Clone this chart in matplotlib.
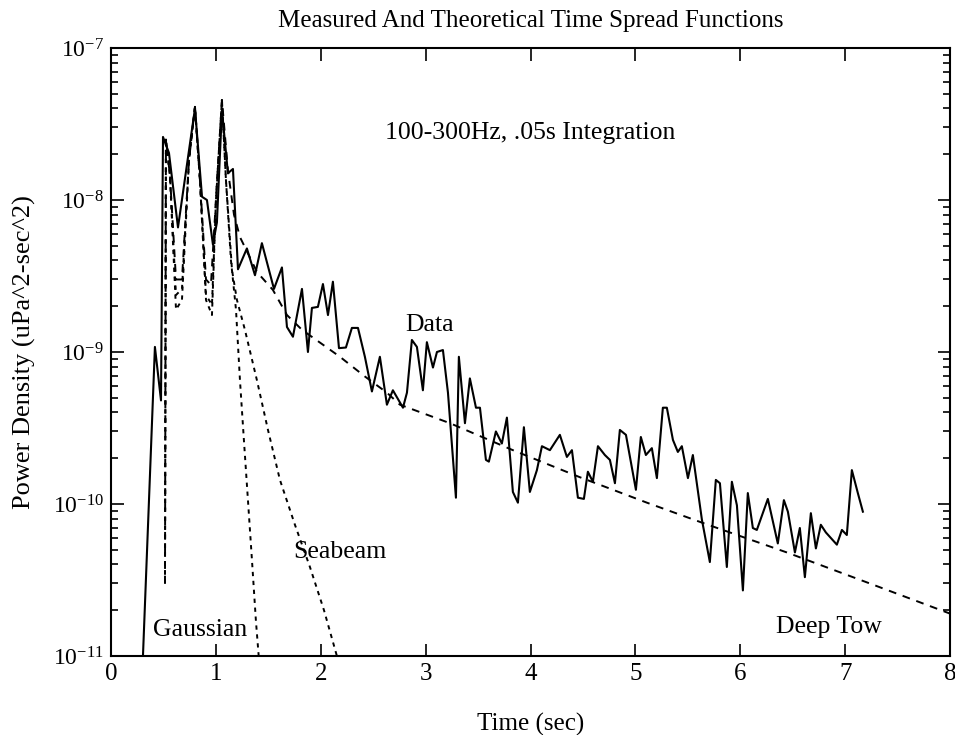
import matplotlib.pyplot as plt
from matplotlib.ticker import FixedLocator, LogLocator, NullFormatter

plt.switch_backend('agg')

plt.rcParams['font.family'] = ['Liberation Serif', 'DejaVu Serif']
plt.rcParams['mathtext.default'] = 'regular'
plt.rcParams['axes.unicode_minus'] = False

# measured data (time in sec, power density in uPa^2-sec^2)
data_t = [0.305, 0.419, 0.477, 0.496, 0.553, 0.639, 0.801, 0.868, 0.915, 0.972,
          1.010, 1.058, 1.115, 1.163, 1.211, 1.296, 1.373, 1.439, 1.554, 1.630,
          1.678, 1.735, 1.821, 1.878, 1.916, 1.973, 2.021, 2.069, 2.116, 2.174,
          2.240, 2.297, 2.355, 2.421, 2.488, 2.564, 2.631, 2.688, 2.784, 2.822,
          2.869, 2.917, 2.974, 3.012, 3.070, 3.108, 3.165, 3.213, 3.289, 3.317,
          3.375, 3.422, 3.480, 3.518, 3.575, 3.603, 3.670, 3.727, 3.775, 3.832,
          3.880, 3.937, 3.994, 4.061, 4.109, 4.185, 4.280, 4.347, 4.395, 4.452,
          4.509, 4.547, 4.595, 4.643, 4.709, 4.757, 4.805, 4.852, 4.910, 5.005,
          5.052, 5.100, 5.157, 5.205, 5.262, 5.300, 5.358, 5.405, 5.443, 5.501,
          5.548, 5.634, 5.710, 5.767, 5.806, 5.872, 5.920, 5.968, 6.025, 6.072,
          6.120, 6.158, 6.263, 6.358, 6.416, 6.454, 6.521, 6.568, 6.616, 6.673,
          6.721, 6.768, 6.816, 6.921, 6.969, 7.016, 7.064, 7.121, 7.169]
data_p = [1.0e-11, 1.08e-9, 4.8e-10, 2.6e-8, 2.04e-8, 6.6e-9, 4.0e-8, 1.05e-8, 1.0e-8, 5.1e-9,
          7.1e-9, 3.9e-8, 1.5e-8, 1.6e-8, 3.5e-9, 4.8e-9, 3.2e-9, 5.2e-9, 2.6e-9, 3.6e-9,
          1.46e-9, 1.26e-9, 2.6e-9, 1.0e-9, 1.95e-9, 1.98e-9, 2.8e-9, 1.75e-9, 2.9e-9, 1.06e-9,
          1.07e-9, 1.44e-9, 1.44e-9, 9.3e-10, 5.5e-10, 9.3e-10, 4.5e-10, 5.6e-10, 4.3e-10, 5.4e-10,
          1.2e-9, 1.08e-9, 5.6e-10, 1.16e-9, 7.9e-10, 1.0e-9, 1.03e-9, 5.4e-10, 1.1e-10, 9.3e-10,
          3.4e-10, 6.7e-10, 4.3e-10, 4.3e-10, 1.95e-10, 1.9e-10, 3.0e-10, 2.5e-10, 3.7e-10, 1.2e-10,
          1.02e-10, 3.2e-10, 1.2e-10, 1.67e-10, 2.4e-10, 2.26e-10, 2.85e-10, 2.04e-10, 2.26e-10, 1.1e-10,
          1.08e-10, 1.63e-10, 1.4e-10, 2.4e-10, 2.1e-10, 1.95e-10, 1.37e-10, 3.07e-10, 2.85e-10, 1.24e-10,
          2.76e-10, 2.1e-10, 2.33e-10, 1.48e-10, 4.3e-10, 4.3e-10, 2.64e-10, 2.2e-10, 2.4e-10, 1.48e-10,
          2.1e-10, 7.9e-11, 4.15e-11, 1.44e-10, 1.37e-10, 3.85e-11, 1.4e-10, 9.8e-11, 2.7e-11, 1.18e-10,
          6.95e-11, 6.75e-11, 1.08e-10, 5.5e-11, 1.06e-10, 8.9e-11, 4.8e-11, 6.95e-11, 3.3e-11, 8.7e-11,
          5.1e-11, 7.3e-11, 6.5e-11, 5.4e-11, 6.75e-11, 6.25e-11, 1.67e-10, 1.18e-10, 8.9e-11]

# theoretical: deep tow
deep_t = [0.515, 0.524, 0.562, 0.620, 0.677, 0.744, 0.801, 0.848, 0.906, 0.953,
          1.001, 1.058, 1.115, 1.173, 1.230, 1.392, 1.544, 1.678, 1.821, 2.183,
          2.421, 2.631, 2.755, 3.232, 3.832, 4.471, 5.110, 5.644, 6.444, 7.235, 8.0]
deep_p = [3.0e-11, 2.5e-8, 1.46e-8, 3.0e-9, 3.0e-9, 1.83e-8, 4.1e-8, 1.36e-8, 3.0e-9, 2.76e-9,
          1.0e-8, 4.55e-8, 1.57e-8, 8.0e-9, 5.7e-9, 3.36e-9, 2.56e-9, 1.75e-9, 1.4e-9, 9.3e-10,
          6.9e-10, 5.4e-10, 4.5e-10, 3.4e-10, 2.26e-10, 1.5e-10, 1.02e-10, 7.5e-11, 4.8e-11, 3.0e-11, 1.9e-11]

# theoretical: gaussian
gauss_t = [0.515, 0.524, 0.562, 0.620, 0.677, 0.744, 0.801, 0.848, 0.906, 0.963,
           1.001, 1.058, 1.096, 1.144, 1.192, 1.230, 1.268, 1.306, 1.344, 1.382, 1.411]
gauss_p = [3.0e-11, 2.5e-8, 1.46e-8, 1.9e-9, 2.2e-9, 1.83e-8, 4.1e-8, 1.36e-8, 2.2e-9, 1.75e-9,
           1.0e-8, 4.55e-8, 1.36e-8, 4.0e-9, 1.9e-9, 6.5e-10, 2.6e-10, 1.06e-10, 4.3e-11, 1.7e-11, 9.5e-12]

# theoretical: seabeam
sea_t = [0.515, 0.524, 0.562, 0.620, 0.677, 0.744, 0.801, 0.848, 0.906, 0.963,
         1.001, 1.058, 1.096, 1.154, 1.201, 1.277, 1.392, 1.497, 1.611, 1.754,
         1.897, 2.031, 2.154]
sea_p = [3.0e-11, 2.5e-8, 1.46e-8, 2.37e-9, 2.6e-9, 1.83e-8, 4.1e-8, 1.36e-8, 2.37e-9, 2.04e-9,
         1.0e-8, 4.55e-8, 1.36e-8, 3.46e-9, 2.2e-9, 1.4e-9, 6.5e-10, 3.07e-10, 1.44e-10, 7.3e-11,
         3.85e-11, 2.0e-11, 1.0e-11]

x_ticks = [0, 1, 2, 3, 4, 5, 6, 7, 8]
y_ticks = [1e-11, 1e-10, 1e-9, 1e-8, 1e-7]
y_tick_labels = ['$10^{-11}$', '$10^{-10}$', '$10^{-9}$', '$10^{-8}$', '$10^{-7}$']

fig = plt.figure(figsize=(9.55, 7.35), dpi=100)
ax = fig.add_axes([0.1162, 0.1075, 0.8786, 0.8272])

ax.plot(data_t, data_p, color='black', linewidth=1.5)
ax.plot(deep_t, deep_p, color='black', linewidth=1.4, linestyle=(0, (4, 3.5)))
ax.plot(gauss_t, gauss_p, color='black', linewidth=1.4, linestyle=(0, (2.2, 2.4)))
ax.plot(sea_t, sea_p, color='black', linewidth=1.4, linestyle=(0, (2.2, 2.4)))

ax.set_yscale('log')
ax.set_xlim(0, 8)
ax.set_ylim(1e-11, 1e-7)

ax.xaxis.set_major_locator(FixedLocator(x_ticks))
ax.set_yticks(y_ticks)
ax.set_yticklabels(y_tick_labels)
ax.yaxis.set_minor_locator(LogLocator(base=10, subs=range(2, 10)))
ax.yaxis.set_minor_formatter(NullFormatter())
ax.tick_params(which='both', direction='in', top=True, right=True, width=1.2)
ax.tick_params(axis='x', labelsize=18)
ax.tick_params(axis='y', labelsize=17)
ax.tick_params(which='major', length=9, pad=5)
ax.tick_params(which='minor', length=5)
for s in ax.spines.values():
    s.set_linewidth(1.5)

ax.set_title('Measured And Theoretical Time Spread Functions', fontsize=18, pad=15)
ax.set_xlabel('Time (sec)', fontsize=18, labelpad=20)
ax.set_ylabel('Power Density (uPa^2-sec^2)', fontsize=19, labelpad=12)

ax.text(4.0, 2.76e-8, '100-300Hz, .05s Integration', fontsize=18.5, ha='center', va='center')
ax.text(3.04, 1.5e-9, 'Data', fontsize=18.5, ha='center', va='center')
ax.text(2.18, 4.8e-11, 'Seabeam', fontsize=18.5, ha='center', va='center')
ax.text(0.85, 1.48e-11, 'Gaussian', fontsize=18.5, ha='center', va='center')
ax.text(6.85, 1.55e-11, 'Deep Tow', fontsize=18.5, ha='center', va='center')

fig.savefig('out.png', dpi=100)
